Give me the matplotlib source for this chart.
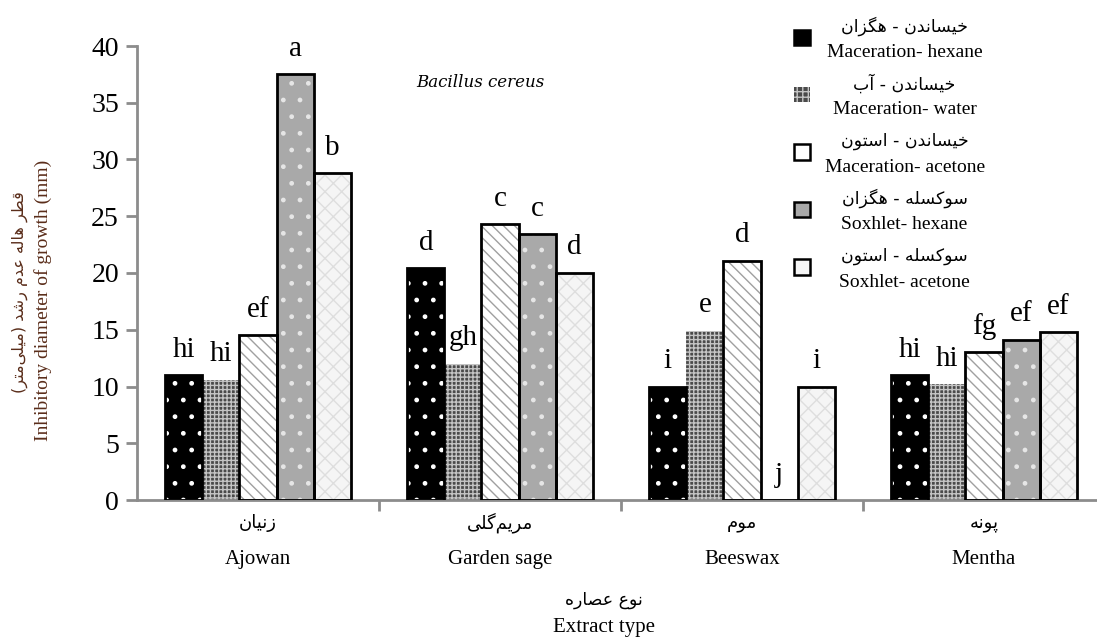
import matplotlib
matplotlib.use("Agg")
import matplotlib.pyplot as plt
import matplotlib.patches as mpatches
import numpy as np

plt.rcParams['font.family'] = ['Liberation Serif', 'DejaVu Sans']
plt.rcParams['hatch.linewidth'] = 1.0

# ---------------- data ----------------
cat_fa = ["زنیان", "مریم‌گلی", "موم", "پونه"]
cat_en = ["Ajowan", "Garden sage", "Beeswax", "Mentha"]
series_fa = ["خیساندن - هگزان", "خیساندن - آب", "خیساندن - استون",
             "سوکسله - هگزان", "سوکسله - استون"]
series_en = ["Maceration- hexane", "Maceration- water", "Maceration- acetone",
             "Soxhlet- hexane", "Soxhlet- acetone"]
mac_hexane = [11.0, 20.4, 10.0, 11.0]
mac_water = [10.6, 12.0, 14.9, 10.2]
mac_acetone = [14.5, 24.3, 21.1, 13.0]
sox_hexane = [37.5, 23.4, 0.0, 14.1]
sox_acetone = [28.8, 20.0, 10.0, 14.8]
letters = [["hi", "d", "i", "hi"],
           ["hi", "gh", "e", "hi"],
           ["ef", "c", "d", "fg"],
           ["a", "c", "j", "ef"],
           ["b", "d", "i", "ef"]]
y_ticks = [0, 5, 10, 15, 20, 25, 30, 35, 40]
title = "Bacillus cereus"
ylabel_fa = "قطر هاله عدم رشد (میلی‌متر)"
ylabel_en = "Inhibitory diameter of growth (mm)"
xlabel_fa = "نوع عصاره"
xlabel_en = "Extract type"

# ------------- minimal Persian shaping -------------
FORMS = {
    'ا': ('\uFE8D', '\uFE8E'), 'آ': ('\uFE81', '\uFE82'),
    'د': ('\uFEA9', '\uFEAA'), 'ر': ('\uFEAD', '\uFEAE'),
    'ز': ('\uFEAF', '\uFEB0'), 'و': ('\uFEED', '\uFEEE'),
    'ب': ('\uFE8F', '\uFE90', '\uFE91', '\uFE92'),
    'پ': ('\uFB56', '\uFB57', '\uFB58', '\uFB59'),
    'ت': ('\uFE95', '\uFE96', '\uFE97', '\uFE98'),
    'خ': ('\uFEA5', '\uFEA6', '\uFEA7', '\uFEA8'),
    'س': ('\uFEB1', '\uFEB2', '\uFEB3', '\uFEB4'),
    'ش': ('\uFEB5', '\uFEB6', '\uFEB7', '\uFEB8'),
    'ص': ('\uFEB9', '\uFEBA', '\uFEBB', '\uFEBC'),
    'ط': ('\uFEC1', '\uFEC2', '\uFEC3', '\uFEC4'),
    'ع': ('\uFEC9', '\uFECA', '\uFECB', '\uFECC'),
    'ق': ('\uFED5', '\uFED6', '\uFED7', '\uFED8'),
    'ک': ('\uFB8E', '\uFB8F', '\uFB90', '\uFB91'),
    'گ': ('\uFB92', '\uFB93', '\uFB94', '\uFB95'),
    'ل': ('\uFEDD', '\uFEDE', '\uFEDF', '\uFEE0'),
    'م': ('\uFEE1', '\uFEE2', '\uFEE3', '\uFEE4'),
    'ن': ('\uFEE5', '\uFEE6', '\uFEE7', '\uFEE8'),
    'ه': ('\uFEE9', '\uFEEA', '\uFEEB', '\uFEEC'),
    'ی': ('\uFBFC', '\uFBFD', '\uFBFE', '\uFBFF'),
}


def fa(s):
    out = []
    for i, c in enumerate(s):
        if c not in FORMS:
            out.append(c)
            continue
        f = FORMS[c]
        prev = s[i - 1] if i > 0 else None
        nxt = s[i + 1] if i + 1 < len(s) else None
        jp = prev in FORMS and len(FORMS[prev]) == 4
        jn = len(f) == 4 and nxt in FORMS
        if jp and jn:
            out.append(f[3])
        elif jp:
            out.append(f[1])
        elif jn:
            out.append(f[2])
        else:
            out.append(f[0])
    r = ''.join(out).replace('\u200c', '')[::-1]
    return r.translate(str.maketrans({'(': ')', ')': '('}))


# ---------------- figure ----------------
fig = plt.figure(figsize=(10.97, 6.37), dpi=100)
ax = fig.add_axes([137 / 1097, 1 - 500 / 637, 968 / 1097, 454 / 637])

series = [mac_hexane, mac_water, mac_acetone, sox_hexane, sox_acetone]
faces = ['black', '#4a4a4a', 'white', '#a9a9a9', '#f5f5f5']
hatch_cols = ['white', '#c4c4c4', '#a0a0a0', '#e6e6e6', '#dedede']
hatches = ['.', '++++', '\\\\\\', '.', 'xx']
outline = [True, False, True, True, True]

x = np.arange(len(cat_en))
width = 0.153
offs = (np.arange(5) - 2) * width

for j, vals in enumerate(series):
    ax.bar(x + offs[j], vals, width, color=faces[j], edgecolor=hatch_cols[j],
           hatch=hatches[j], linewidth=0, zorder=2)
    if outline[j]:
        ax.bar(x + offs[j], vals, width, fill=False, edgecolor='black',
               linewidth=2, zorder=3)
    for i, v in enumerate(vals):
        ax.annotate(letters[j][i], (x[i] + offs[j], v), xytext=(0, 9),
                    textcoords='offset points', ha='center', va='bottom',
                    fontsize=21, family='Liberation Serif')

ax.set_xlim(-0.5, 3.5)
ax.set_ylim(0, 40)
ax.set_yticks(y_ticks)
ax.set_yticklabels([str(t) for t in y_ticks], fontsize=20)
ax.set_xticks([0.5, 1.5, 2.5])
ax.set_xticklabels([])
for s in ['top', 'right']:
    ax.spines[s].set_visible(False)
for s in ['left', 'bottom']:
    ax.spines[s].set_color('#8c8c8c')
    ax.spines[s].set_linewidth(2)
ax.tick_params(axis='both', colors='#8c8c8c', width=2, length=8, direction='out')
ax.tick_params(axis='y', labelcolor='black', pad=5)

for i in range(len(cat_en)):
    ax.text(x[i], -0.05, fa(cat_fa[i]), transform=ax.get_xaxis_transform(),
            ha='center', va='center', fontsize=13, family=['DejaVu Sans'])
    ax.text(x[i], -0.13, cat_en[i], transform=ax.get_xaxis_transform(),
            ha='center', va='center', fontsize=15)

ax.text(1.43, -0.22, fa(xlabel_fa), transform=ax.get_xaxis_transform(),
        ha='center', va='center', fontsize=12.5, family=['DejaVu Sans'])
ax.text(1.43, -0.28, xlabel_en, transform=ax.get_xaxis_transform(),
        ha='center', va='center', fontsize=15)

fig.text(20 / 1097, 1 - 292 / 637, fa(ylabel_fa), rotation=90, ha='center',
         va='center', fontsize=11.5, family=['DejaVu Sans'], color='#5a2d1a')
fig.text(43 / 1097, 1 - 300 / 637, ylabel_en, rotation=90, ha='center',
         va='center', fontsize=14, color='#5a2d1a')

ax.text(0.917, 36.8, title, ha='center', va='center', fontsize=12,
        style='italic', family='DejaVu Serif')

# legend: markers from legend, two centred text lines next to each marker
handles = []
for j in range(5):
    if outline[j]:
        handles.append(mpatches.Patch(facecolor=faces[j], edgecolor='black',
                                      linewidth=1.8))
    else:
        handles.append(mpatches.Patch(facecolor=faces[j], edgecolor=hatch_cols[j],
                                      hatch='+++', linewidth=0))
leg = fig.legend(handles, [" "] * 5, loc='upper left',
                 bbox_to_anchor=(778 / 1097, 1 - 14 / 637), frameon=False,
                 fontsize=14, handlelength=0.85, handleheight=0.85,
                 labelspacing=2.0, handletextpad=0.5, borderpad=0.3)
fig.canvas.draw()
for j, h in enumerate(leg.legend_handles):
    ax.annotate(fa(series_fa[j]), xy=(0.5, 0.5), xycoords=h,
                xytext=(74, 8), textcoords='offset points',
                ha='center', va='center', fontsize=12.5, family=['DejaVu Sans'])
    ax.annotate(series_en[j], xy=(0.5, 0.5), xycoords=h,
                xytext=(74, -11), textcoords='offset points',
                ha='center', va='center', fontsize=14)

fig.savefig("out.png", dpi=100)
